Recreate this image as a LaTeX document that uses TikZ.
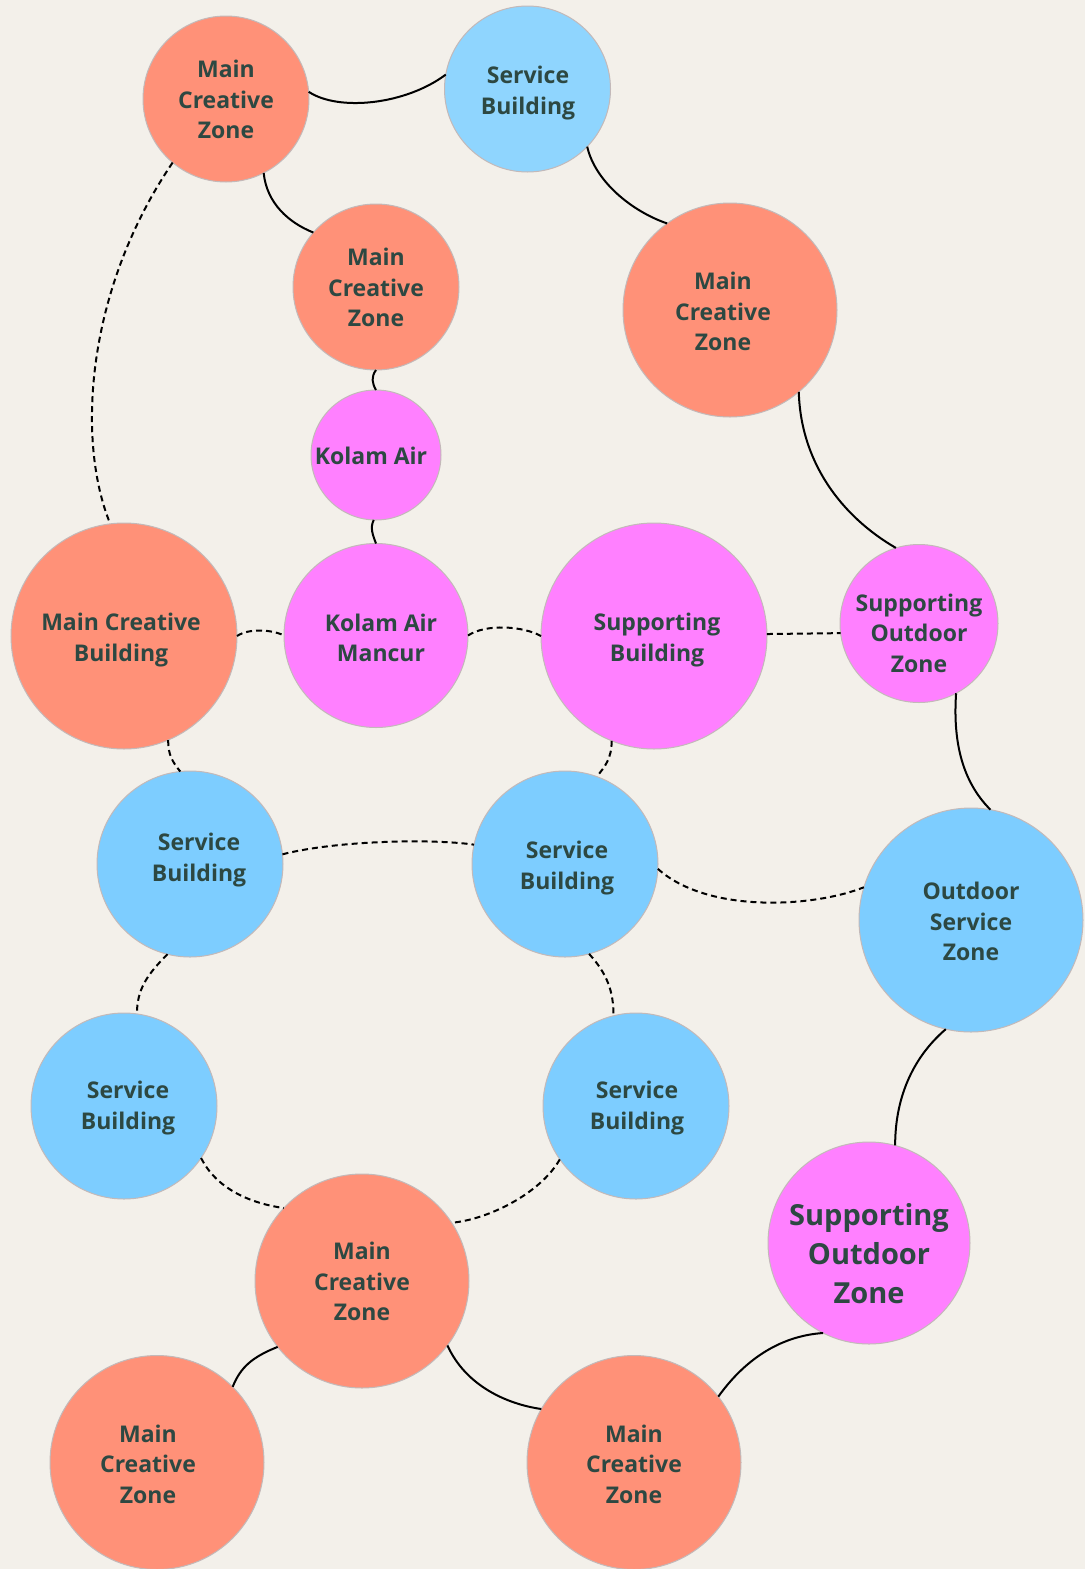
\documentclass[tikz,border=0pt]{standalone}
\usepackage{fontspec}
\setmainfont{Open Sans}
\definecolor{bg}{RGB}{243,240,234}
\definecolor{salmon}{RGB}{255,145,120}
\definecolor{sky}{RGB}{125,205,255}
\definecolor{skylight}{RGB}{143,213,254}
\definecolor{pink}{RGB}{255,128,255}
\definecolor{txt}{RGB}{45,72,66}
\definecolor{rim}{RGB}{195,185,185}
\begin{document}
\begin{tikzpicture}[x=1pt,y=-1pt,
  bub/.style={circle,inner sep=0pt,outer sep=0pt,draw=rim,line width=1pt,minimum size=#1},
  zone/.style={bub=#1,fill=salmon},
  serv/.style={bub=#1,fill=sky},
  supp/.style={bub=#1,fill=pink},
  lab/.style={align=center,text=txt,inner sep=0pt,font=\bfseries\fontsize{23}{30.5}\selectfont},
  biglab/.style={align=center,text=txt,inner sep=0pt,font=\bfseries\fontsize{29}{39}\selectfont},
  conn/.style={line width=2pt,black},
  dconn/.style={conn,dash pattern=on 6pt off 4pt}]
\fill[bg] (0,0) rectangle (1085,1569);
\useasboundingbox (0,0) rectangle (1085,1569);
% bubbles
\node[zone=166] (c1) at (226,99) {};
\node[serv=166,fill=skylight] (c2) at (527.5,89) {};
\node[zone=166] (c3) at (376,287) {};
\node[zone=214] (c4) at (730,310) {};
\node[supp=130] (c5) at (376,455) {};
\node[zone=226] (c6) at (124,636) {};
\node[supp=184] (c7) at (376,635.5) {};
\node[supp=226] (c8) at (654,636) {};
\node[supp=158] (c9) at (919,623.5) {};
\node[serv=186] (c10) at (190,864) {};
\node[serv=186] (c11) at (565,864) {};
\node[serv=224] (c12) at (971,920) {};
\node[serv=186] (c13) at (124,1106) {};
\node[serv=186] (c14) at (636,1106) {};
\node[zone=214] (c15) at (362,1281) {};
\node[supp=202] (c16) at (869,1243) {};
\node[zone=214] (c17) at (157,1462.5) {};
\node[zone=214] (c18) at (634,1462.5) {};
% labels
\node[lab] (t1) at (226,99.5) {Main\\Creative\\Zone};
\node[lab] (t2) at (528,93) {Service\\Building};
\node[lab] (t3) at (376,287.5) {Main\\Creative\\Zone};
\node[lab] (t4) at (723,311.5) {Main\\Creative\\Zone};
\node[lab] (t5) at (371,456) {Kolam Air};
\node[lab] (t6) at (121,640) {Main Creative\\Building};
\node[lab] (t7) at (381,638) {Kolam Air\\Mancur};
\node[lab] (t8) at (657,640) {Supporting\\Building};
\node[lab] (t9) at (919,633) {Supporting\\Outdoor\\Zone};
\node[lab] (t10) at (199,860) {Service\\Building};
\node[lab] (t11) at (567,868) {Service\\Building};
\node[lab] (t12) at (971,921.5) {Outdoor\\Service\\Zone};
\node[lab] (t13) at (128,1108) {Service\\Building};
\node[lab] (t14) at (637,1108) {Service\\Building};
\node[lab] (t15) at (362,1281.5) {Main\\Creative\\Zone};
\node[biglab] (t16) at (869,1253.5) {Supporting\\Outdoor\\Zone};
\node[lab] (t17) at (148,1464) {Main\\Creative\\Zone};
\node[lab] (t18) at (634,1464) {Main\\Creative\\Zone};
% connectors
\draw[conn] (c1.5.6) .. controls +(30,20) and +(-40,30) .. (c2.170.3);
\draw[conn] (c2.-44.8) .. controls +(8,35) and +(-35,-12) .. (c4.126.9);
\draw[conn] (c1.-63) .. controls +(3,30) and +(-25,-10) .. (c3.139);
\draw[conn] (c3.-90) .. controls +(-5,7) and +(-4,-7) .. (c5.90);
\draw[conn] (c5.-92) .. controls +(-4,8) and +(-3,-8) .. (c7.90);
\draw[dconn] (c1.-130.6) .. controls +(-87,128) and +(-34,-83) .. (c6.97);
\draw[dconn] (c6.0) .. controls +(12,-8) and +(-12,-6) .. (c7.180);
\draw[dconn] (c7.0) .. controls +(18,-12) and +(-18,-10) .. (c8.180);
\draw[dconn] (c8.1.5) -- (c9.187.2);
\draw[conn] (c4.-50.1) .. controls +(2,70) and +(-55,-32) .. (c9.107.3);
\draw[conn] (c9.-62.7) .. controls +(-3,45) and +(-30,-30) .. (c12.80.5);
\draw[dconn] (c6.-67) .. controls +(0,15) and +(-8,-10) .. (c10.96.7);
\draw[dconn] (c8.-112.8) .. controls +(0,18) and +(8,-10) .. (c11.70.6);
\draw[dconn] (c10.6.5) .. controls +(55,-14) and +(-40,-6) .. (c11.168.4);
\draw[dconn] (c11.-3.1) .. controls +(50,45) and +(-50,20) .. (c12.163.6);
\draw[dconn] (c10.-104.7) .. controls +(-20,20) and +(0,-25) .. (c13.82);
\draw[dconn] (c11.-75.4) .. controls +(18,20) and +(0,-25) .. (c14.104.9);
\draw[dconn] (c13.-34) .. controls +(15,30) and +(-35,-5) .. (c15.137.3);
\draw[dconn] (c14.-145.8) .. controls +(-20,35) and +(35,-3) .. (c15.33.5);
\draw[conn] (c12.-103) .. controls +(-35,30) and +(0,-45) .. (c16.75.4);
\draw[conn] (c16.-117.3) .. controls +(-45,3) and +(25,-35) .. (c18.38.9);
\draw[conn] (c15.-142.7) .. controls +(-25,10) and +(8,-20) .. (c17.45.2);
\draw[conn] (c15.-37.4) .. controls +(18,40) and +(-35,-5) .. (c18.150.5);
\end{tikzpicture}
\end{document}
